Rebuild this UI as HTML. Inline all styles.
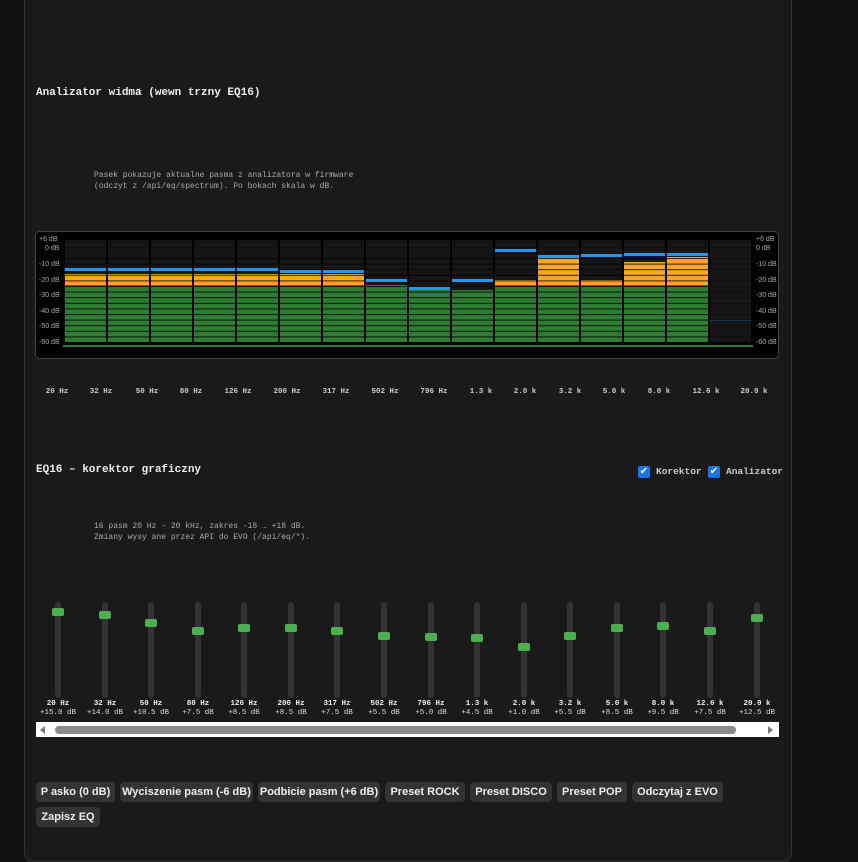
<!DOCTYPE html>
<html><head><meta charset="utf-8"><style>
body{margin:0;width:858px;height:850px;background:#111;overflow:hidden;font-family:"Liberation Mono",monospace;color:#ddd;position:relative}
.panel{position:absolute;left:24px;top:-10px;width:766px;height:870px;background:#1a1a1a;border:1px solid #333;border-radius:8px}
.a{position:absolute;white-space:nowrap}
h3{position:absolute;margin:0;font-size:11px;font-weight:bold;color:#eee}
.note{font-size:8px;color:#aaa;line-height:11px}
.fl{font-size:7.5px;font-weight:bold;color:#ccc;transform:translateX(-50%)}
.trk{position:absolute;top:602px;width:6px;height:96px;background:#333;border-radius:3px}
.th{position:absolute;width:12px;height:8px;background:#4caf50;border-radius:2px}
.sl{position:absolute;font-size:7.5px;text-align:center;width:46px;line-height:9px;color:#ddd}
.sl b{color:#eee}
.btn{position:absolute;height:20px;line-height:20px;background:#333;border-radius:4px;font-family:"Liberation Sans",sans-serif;font-size:11px;font-weight:bold;color:#eee;text-align:center;white-space:nowrap;overflow:hidden}
.cb{position:absolute;top:466px;width:12px;height:12px;background:#1a73e8;border-radius:2px;color:#fff;font-size:10px;line-height:12px;text-align:center;font-family:"DejaVu Sans",sans-serif}
</style></head><body>
<div class="panel"></div>
<h3 style="left:36px;top:87px">Analizator widma (wewn trzny EQ16)</h3>
<div class="a note" style="left:94px;top:170px">Pasek pokazuje aktualne pasma z analizatora w firmware<br>(odczyt z /api/eq/spectrum). Po bokach skala w dB.</div>
<svg class="a" style="left:0;top:0" width="858" height="850">
<defs>
<pattern id="seg" x="0" y="342" width="10" height="5.6" patternUnits="userSpaceOnUse"><rect x="0" y="0" width="10" height="1" fill="rgba(0,0,0,0.8)"/></pattern>
<pattern id="segb" x="0" y="342" width="10" height="5.6" patternUnits="userSpaceOnUse"><rect x="0" y="0" width="10" height="1" fill="rgba(0,0,0,0.35)"/></pattern>
</defs>
<rect x="35.5" y="231.5" width="743" height="127" rx="4" fill="#000" stroke="#444"/>
<g fill="#161616">
<rect x="65" y="240" width="41" height="102"/><rect x="108" y="240" width="41" height="102"/><rect x="151" y="240" width="41" height="102"/><rect x="194" y="240" width="41" height="102"/><rect x="237" y="240" width="41" height="102"/><rect x="280" y="240" width="41" height="102"/><rect x="323" y="240" width="41" height="102"/><rect x="366" y="240" width="41" height="102"/><rect x="409" y="240" width="41" height="102"/><rect x="452" y="240" width="41" height="102"/><rect x="495" y="240" width="41" height="102"/><rect x="538" y="240" width="41" height="102"/><rect x="581" y="240" width="41" height="102"/><rect x="624" y="240" width="41" height="102"/><rect x="667" y="240" width="41" height="102"/><rect x="710" y="240" width="41" height="102"/>
</g>
<rect x="65" y="240" width="686" height="102" fill="url(#segb)"/>
<g fill="#f9a825">
<rect x="65" y="274" width="41" height="11"/><rect x="108" y="274" width="41" height="11"/><rect x="151" y="274" width="41" height="11"/><rect x="194" y="274" width="41" height="11"/><rect x="237" y="274" width="41" height="11"/><rect x="280" y="274" width="41" height="11"/><rect x="323" y="274" width="41" height="11"/>
<rect x="495" y="280" width="41" height="5"/><rect x="538" y="257" width="41" height="28"/><rect x="581" y="280" width="41" height="5"/><rect x="624" y="262" width="41" height="23"/><rect x="667" y="257" width="41" height="28"/>
</g>
<g fill="#2e7d32">
<rect x="65" y="285" width="41" height="57"/><rect x="108" y="285" width="41" height="57"/><rect x="151" y="285" width="41" height="57"/><rect x="194" y="285" width="41" height="57"/><rect x="237" y="285" width="41" height="57"/><rect x="280" y="285" width="41" height="57"/><rect x="323" y="285" width="41" height="57"/><rect x="366" y="285" width="41" height="57"/><rect x="409" y="290" width="41" height="52"/><rect x="452" y="290" width="41" height="52"/><rect x="495" y="285" width="41" height="57"/><rect x="538" y="285" width="41" height="57"/><rect x="581" y="285" width="41" height="57"/><rect x="624" y="285" width="41" height="57"/><rect x="667" y="285" width="41" height="57"/>
</g>
<rect x="65" y="257" width="643" height="85" fill="url(#seg)"/>
<g fill="#2196f3">
<rect x="65" y="268" width="41" height="3"/><rect x="108" y="268" width="41" height="3"/><rect x="151" y="268" width="41" height="3"/><rect x="194" y="268" width="41" height="3"/><rect x="237" y="268" width="41" height="3"/><rect x="280" y="270" width="41" height="3"/><rect x="323" y="270" width="41" height="3"/><rect x="366" y="279" width="41" height="3"/><rect x="409" y="287" width="41" height="3"/><rect x="452" y="279" width="41" height="3"/><rect x="495" y="249" width="41" height="3"/><rect x="538" y="255" width="41" height="3"/><rect x="581" y="254" width="41" height="3"/><rect x="624" y="253" width="41" height="3"/><rect x="667" y="253" width="41" height="3"/>
</g>
<rect x="710" y="320" width="41" height="1" fill="#1b3550"/>
<rect x="63" y="345" width="690" height="2" fill="#2e7d32"/>
<g font-family="Liberation Sans,sans-serif" font-size="7" fill="#aaa">
<text x="39" y="241">+6 dB</text><text x="45" y="250">0 dB</text><text x="39" y="266">-10 dB</text><text x="39" y="282">-20 dB</text><text x="39" y="297">-30 dB</text><text x="39" y="313">-40 dB</text><text x="39" y="328">-50 dB</text><text x="39" y="344">-60 dB</text>
<text x="756" y="241">+6 dB</text><text x="756" y="250">0 dB</text><text x="756" y="266">-10 dB</text><text x="756" y="282">-20 dB</text><text x="756" y="297">-30 dB</text><text x="756" y="313">-40 dB</text><text x="756" y="328">-50 dB</text><text x="756" y="344">-60 dB</text>
</g>
</svg>
<div class="a fl" style="left:57px;top:388px">20 Hz</div><div class="a fl" style="left:101px;top:388px">32 Hz</div><div class="a fl" style="left:147px;top:388px">50 Hz</div><div class="a fl" style="left:191px;top:388px">80 Hz</div><div class="a fl" style="left:238px;top:388px">126 Hz</div><div class="a fl" style="left:287px;top:388px">200 Hz</div><div class="a fl" style="left:336px;top:388px">317 Hz</div><div class="a fl" style="left:385px;top:388px">502 Hz</div><div class="a fl" style="left:434px;top:388px">796 Hz</div><div class="a fl" style="left:481px;top:388px">1.3 k</div><div class="a fl" style="left:525px;top:388px">2.0 k</div><div class="a fl" style="left:570px;top:388px">3.2 k</div><div class="a fl" style="left:614px;top:388px">5.0 k</div><div class="a fl" style="left:659px;top:388px">8.0 k</div><div class="a fl" style="left:706px;top:388px">12.6 k</div><div class="a fl" style="left:754px;top:388px">20.0 k</div>

<h3 style="left:36px;top:464px">EQ16 – korektor graficzny</h3>
<div class="cb" style="left:638px">✔</div><div class="a" style="left:656px;top:466px;font-size:9.5px;font-weight:bold;color:#ccc">Korektor</div>
<div class="cb" style="left:708px">✔</div><div class="a" style="left:726px;top:466px;font-size:9.5px;font-weight:bold;color:#ccc">Analizator</div>
<div class="a note" style="left:94px;top:521px">16 pasm 20 Hz – 20 kHz, zakres -18 … +18 dB.<br>Zmiany wysy ane przez API do EVO (/api/eq/*).</div>

<div class="trk" style="left:55px"></div><div class="th" style="left:52px;top:608px"></div><div class="sl" style="left:35px;top:700px"><b>20 Hz</b><br>+15.0 dB</div>
<div class="trk" style="left:102px"></div><div class="th" style="left:99px;top:611px"></div><div class="sl" style="left:82px;top:700px"><b>32 Hz</b><br>+14.0 dB</div>
<div class="trk" style="left:148px"></div><div class="th" style="left:145px;top:619px"></div><div class="sl" style="left:128px;top:700px"><b>50 Hz</b><br>+10.5 dB</div>
<div class="trk" style="left:195px"></div><div class="th" style="left:192px;top:627px"></div><div class="sl" style="left:175px;top:700px"><b>80 Hz</b><br>+7.5 dB</div>
<div class="trk" style="left:241px"></div><div class="th" style="left:238px;top:624px"></div><div class="sl" style="left:221px;top:700px"><b>126 Hz</b><br>+8.5 dB</div>
<div class="trk" style="left:288px"></div><div class="th" style="left:285px;top:624px"></div><div class="sl" style="left:268px;top:700px"><b>200 Hz</b><br>+8.5 dB</div>
<div class="trk" style="left:334px"></div><div class="th" style="left:331px;top:627px"></div><div class="sl" style="left:314px;top:700px"><b>317 Hz</b><br>+7.5 dB</div>
<div class="trk" style="left:381px"></div><div class="th" style="left:378px;top:632px"></div><div class="sl" style="left:361px;top:700px"><b>502 Hz</b><br>+5.5 dB</div>
<div class="trk" style="left:428px"></div><div class="th" style="left:425px;top:633px"></div><div class="sl" style="left:408px;top:700px"><b>796 Hz</b><br>+5.0 dB</div>
<div class="trk" style="left:474px"></div><div class="th" style="left:471px;top:634px"></div><div class="sl" style="left:454px;top:700px"><b>1.3 k</b><br>+4.5 dB</div>
<div class="trk" style="left:521px"></div><div class="th" style="left:518px;top:643px"></div><div class="sl" style="left:501px;top:700px"><b>2.0 k</b><br>+1.0 dB</div>
<div class="trk" style="left:567px"></div><div class="th" style="left:564px;top:632px"></div><div class="sl" style="left:547px;top:700px"><b>3.2 k</b><br>+5.5 dB</div>
<div class="trk" style="left:614px"></div><div class="th" style="left:611px;top:624px"></div><div class="sl" style="left:594px;top:700px"><b>5.0 k</b><br>+8.5 dB</div>
<div class="trk" style="left:660px"></div><div class="th" style="left:657px;top:622px"></div><div class="sl" style="left:640px;top:700px"><b>8.0 k</b><br>+9.5 dB</div>
<div class="trk" style="left:707px"></div><div class="th" style="left:704px;top:627px"></div><div class="sl" style="left:687px;top:700px"><b>12.6 k</b><br>+7.5 dB</div>
<div class="trk" style="left:754px"></div><div class="th" style="left:751px;top:614px"></div><div class="sl" style="left:734px;top:700px"><b>20.0 k</b><br>+12.5 dB</div>

<div class="a" style="left:36px;top:722px;width:743px;height:15px;background:#fff"></div>
<div class="a" style="left:55px;top:726px;width:681px;height:8px;background:#8a8a8a;border-radius:4px"></div>
<svg class="a" style="left:38px;top:725px" width="10" height="10"><path d="M7 1 L2 5 L7 9Z" fill="#777"/></svg>
<svg class="a" style="left:766px;top:725px" width="10" height="10"><path d="M2 1 L7 5 L2 9Z" fill="#777"/></svg>

<div class="btn" style="left:36px;top:782px;width:79px">P asko (0 dB)</div>
<div class="btn" style="left:120px;top:782px;width:133px">Wyciszenie pasm (-6 dB)</div>
<div class="btn" style="left:258px;top:782px;width:122px">Podbicie pasm (+6 dB)</div>
<div class="btn" style="left:385px;top:782px;width:80px">Preset ROCK</div>
<div class="btn" style="left:470px;top:782px;width:82px">Preset DISCO</div>
<div class="btn" style="left:557px;top:782px;width:70px">Preset POP</div>
<div class="btn" style="left:632px;top:782px;width:91px">Odczytaj z EVO</div>
<div class="btn" style="left:36px;top:807px;width:64px">Zapisz EQ</div>
</body></html>
